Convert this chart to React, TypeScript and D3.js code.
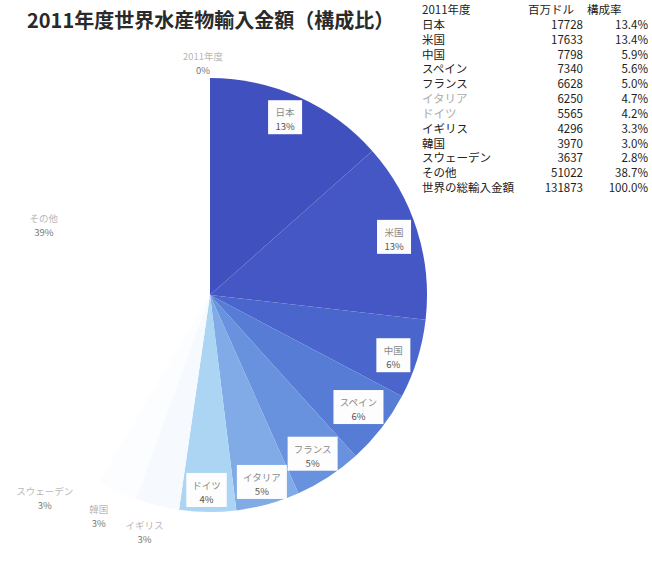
import React from "react";
import * as d3 from "d3";

const categories = ["2011年度", "日本", "米国", "中国", "スペイン", "フランス", "イタリア", "ドイツ", "イギリス", "韓国", "スウェーデン", "その他"];
const values = [0, 17728, 17633, 7798, 7340, 6628, 6250, 5565, 4296, 3970, 3637, 51022];
const totalLabel = "世界の総輸入金額";
const totalValue = 131873;
const tableHeader = ["2011年度", "百万ドル", "構成率"];
const title = "2011年度世界水産物輸入金額（構成比）";

// layout / style (not data)
const sliceColors = ["#ffffff", "#4150bf", "#4557c5", "#4a66cc", "#567cd6", "#6891de", "#80abe7", "#acd5f3", "#f6fafe", "#fcfdff", "#ffffff", "#ffffff"];
const labelRadius = [234, 193, 193, 193, 186, 189, 194, 195, 244, 246, 260, 181];
const labelAngleShift = [-1.7, -1.3, 0, 1, -0.8, 0.2, 0, 0.4, 1.5, 1.5, 3.7, 3];
const labelBoxed = [false, true, true, true, true, true, true, true, false, false, false, false];
const fadedRows = ["イタリア", "ドイツ"];

const W = 652, H = 564;
const cx = 210, cy = 295, R = 217;
const font = "'Noto Sans CJK JP', 'Noto Sans', sans-serif";

export default function App() {
  const data = categories.map((c, i) => ({ name: c, value: values[i], i }));
  const pie = d3.pie<any>().sort(null).value((d: any) => d.value).startAngle(0).endAngle(Math.PI * 2);
  const arcs = pie(data);
  const arcGen = d3.arc<any>().innerRadius(0).outerRadius(R);
  const pct0 = d3.format(".0%");
  const pct1 = (v: number) => d3.format(".1f")((v / totalValue) * 100) + "%";

  const rows = [...categories.slice(1), totalLabel];
  const rowVals = [...values.slice(1), totalValue];
  const yRow = d3.scalePoint<string>().domain(["__hdr", ...rows]).range([9, 187]);

  return (
    <svg width={W} height={H} style={{ position: "absolute", left: 0, top: 0, background: "#fff" }}>
      <rect x={0} y={0} width={W} height={H} fill="#fff" />
      <text x={27} y={19} fontFamily={font} fontSize={20} fontWeight="bold" fill="#2a2a2a" dominantBaseline="central">
        {title}
      </text>
      <g transform={`translate(${cx},${cy})`}>
        {arcs.map((a, i) => (
          <path key={i} d={arcGen(a) || ""} fill={sliceColors[i]} />
        ))}
        {arcs.map((a, i) => {
          const mid = (a.startAngle + a.endAngle) / 2 + (labelAngleShift[i] * Math.PI) / 180;
          const r = labelRadius[i];
          const x = Math.sin(mid) * r;
          const y = -Math.cos(mid) * r;
          const name = categories[i];
          const p = pct0(values[i] / totalValue);
          const w = Math.max(name.length * 9.5, 22) + 12;
          return (
            <g key={"l" + i} transform={`translate(${x},${y})`}>
              {labelBoxed[i] && <rect x={-w / 2} y={-17} width={w} height={34} fill="#fdfdfd" />}
              <text y={-5} textAnchor="middle" dominantBaseline="central" fontFamily={font} fontSize={9.5}
                fill={labelBoxed[i] ? "#8a8a8a" : "#b8b8b8"}>{name}</text>
              <text y={9} textAnchor="middle" dominantBaseline="central" fontFamily={font} fontSize={9.5}
                fill={labelBoxed[i] ? "#555" : "#777"}>{p}</text>
            </g>
          );
        })}
      </g>
      <g fontFamily={font} fontSize={11.5} fill="#222">
        <text x={422} y={yRow("__hdr")} dominantBaseline="central">{tableHeader[0]}</text>
        <text x={528} y={yRow("__hdr")} dominantBaseline="central">{tableHeader[1]}</text>
        <text x={587} y={yRow("__hdr")} dominantBaseline="central">{tableHeader[2]}</text>
        {rows.map((r, i) => (
          <g key={r}>
            <text x={422} y={yRow(r)} dominantBaseline="central" fill={fadedRows.includes(r) ? "#aaa" : "#222"}>{r}</text>
            <text x={583} y={yRow(r)} dominantBaseline="central" textAnchor="end">{rowVals[i]}</text>
            <text x={648} y={yRow(r)} dominantBaseline="central" textAnchor="end">{pct1(rowVals[i])}</text>
          </g>
        ))}
      </g>
    </svg>
  );
}
